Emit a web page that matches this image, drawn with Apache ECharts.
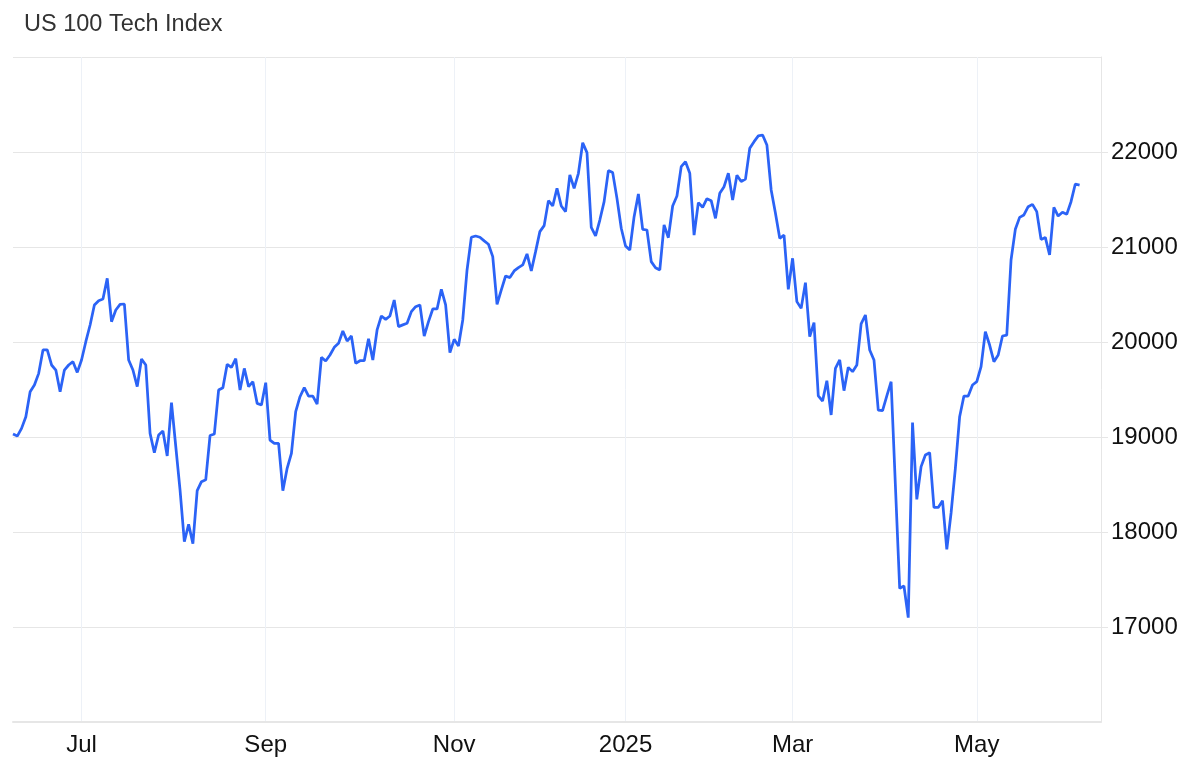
<!DOCTYPE html>
<html>
<head>
<meta charset="utf-8">
<title>US 100 Tech Index</title>
<script src="https://cdn.jsdelivr.net/npm/echarts@6/dist/echarts.min.js"></script>
<style>
  html, body { margin: 0; padding: 0; background: #ffffff; }
  #chart { width: 1200px; height: 782px; }
</style>
</head>
<body>
<div id="chart"></div>
<script>
// ---- data ----
const titleText = 'US 100 Tech Index';
const firstDate = '2024-06-06';
const categoryCount = 255; // trading days on the axis (last few have no data yet)
const marketHolidays = [
  '2024-06-19', '2024-07-04', '2024-09-02', '2024-11-28', '2024-12-25',
  '2025-01-01', '2025-01-09', '2025-01-20', '2025-02-17', '2025-04-18',
  '2025-05-26', '2025-06-19'
];
const monthNames = ['Jan','Feb','Mar','Apr','May','Jun','Jul','Aug','Sep','Oct','Nov','Dec'];
const labelledMonths = [0, 2, 4, 6, 8, 10]; // Jan(year), Mar, May, Jul, Sep, Nov
const yTicks = { min: 16000, max: 23000, step: 1000 };

// daily closes, Jun 2024 .. Jun 2025
const closes = [
  19031, 19010, 19091, 19214, 19477, 19547, 19670, 19916, 19916, 19758,
  19705, 19477, 19705, 19758, 19793, 19680, 19810, 20003, 20179, 20389,
  20435, 20452, 20670, 20214, 20337, 20396, 20400, 19810, 19705, 19530,
  19821, 19758, 19038, 18835, 19021, 19063, 18800, 19361, 18900, 18440,
  17898, 18080, 17878, 18435, 18530, 18550, 19015, 19031, 19494, 19519,
  19765, 19733, 19824, 19494, 19722, 19530, 19582, 19354, 19337, 19572,
  18968, 18933, 18933, 18435, 18670, 18828, 19266, 19424, 19519, 19431,
  19431, 19347, 19838, 19800, 19863, 19944, 19986, 20116, 20010, 20063,
  19775, 19803, 19803, 20035, 19810, 20127, 20274, 20239, 20274, 20442,
  20162, 20180, 20197, 20320, 20372, 20390, 20063, 20214, 20348, 20348,
  20555, 20390, 19888, 20028, 19958, 20232, 20758, 21102, 21116, 21102,
  21064, 21029, 20899, 20397, 20548, 20695, 20678, 20748, 20783, 20811,
  20927, 20748, 20951, 21162, 21225, 21488, 21432, 21618, 21432, 21372,
  21760, 21618, 21776, 22098, 21993, 21207, 21116, 21284, 21477, 21804,
  21783, 21512, 21197, 21011, 20968, 21319, 21558, 21186, 21179, 20846,
  20782, 20758, 21232, 21098, 21432, 21537, 21846, 21898, 21776, 21126,
  21467, 21418, 21509, 21488, 21302, 21565, 21635, 21776, 21495, 21755,
  21690, 21715, 22040, 22109, 22169, 22179, 22074, 21600, 21355, 21091,
  21126, 20554, 20881, 20425, 20354, 20625, 20056, 20204, 19432, 19379,
  19593, 19232, 19723, 19811, 19488, 19733, 19688, 19758, 20190, 20284,
  19916, 19811, 19284, 19277, 19432, 19582, 18490, 17407, 17431, 17098,
  19151, 18344, 18688, 18810, 18835, 18259, 18259, 18329, 17817, 18200,
  18670, 19214, 19431, 19431, 19547, 19582, 19740, 20108, 19968, 19793,
  19863, 20063, 20073, 20863, 21186, 21312, 21337, 21424, 21449, 21372,
  21080, 21101, 20916, 21417, 21326, 21365, 21344, 21477, 21663, 21652
];

// ---- trading-day categories ----
function pad(n) { return (n < 10 ? '0' : '') + n; }
function fmt(d) { return d.getUTCFullYear() + '-' + pad(d.getUTCMonth() + 1) + '-' + pad(d.getUTCDate()); }
const dates = [];
(function () {
  const d = new Date(firstDate + 'T00:00:00Z');
  while (dates.length < categoryCount) {
    const wd = d.getUTCDay();
    const s = fmt(d);
    if (wd !== 0 && wd !== 6 && marketHolidays.indexOf(s) < 0) dates.push(s);
    d.setUTCDate(d.getUTCDate() + 1);
  }
})();

// month tick: last trading day on or before the 1st of the month
function monthTickLabel(index) {
  const cur = dates[index];
  let m = null, y = null;
  if (cur.slice(8, 10) === '01') {
    m = +cur.slice(5, 7) - 1; y = cur.slice(0, 4);
  } else if (index + 1 < dates.length) {
    const nxt = dates[index + 1];
    if (nxt.slice(5, 7) !== cur.slice(5, 7) && nxt.slice(8, 10) !== '01') {
      m = +nxt.slice(5, 7) - 1; y = nxt.slice(0, 4);
    }
  }
  if (m === null || labelledMonths.indexOf(m) < 0) return null;
  return m === 0 ? y : monthNames[m];
}
function isTick(index) { return monthTickLabel(index) !== null; }

const FONT = "'Liberation Sans', Arial, Helvetica, sans-serif";
const chart = echarts.init(document.getElementById('chart'), null, { renderer: 'canvas' });
chart.setOption({
  animation: false,
  backgroundColor: '#ffffff',
  title: {
    text: titleText,
    left: 24,
    top: 13,
    padding: 0,
    textStyle: { fontFamily: FONT, fontSize: 23.5, fontWeight: 'normal', color: '#333333' }
  },
  grid: { left: 13, right: 99, top: 57, bottom: 60, containLabel: false },
  xAxis: {
    type: 'category',
    data: dates,
    boundaryGap: false,
    axisLine: { show: true, lineStyle: { color: '#e6e6e6', width: 2 } },
    axisTick: { show: false },
    axisLabel: {
      interval: function (index) { return isTick(index); },
      formatter: function (value, index) { return monthTickLabel(index) || ''; },
      color: '#111111',
      fontFamily: FONT,
      fontSize: 24,
      margin: 11
    },
    splitLine: {
      show: true,
      interval: function (index) { return isTick(index); },
      lineStyle: { color: '#edf1f7', width: 1 }
    }
  },
  yAxis: {
    type: 'value',
    position: 'right',
    min: yTicks.min,
    max: yTicks.max,
    interval: yTicks.step,
    axisLine: { show: true, lineStyle: { color: '#e6e6e6', width: 1 } },
    axisTick: { show: true, length: 7, lineStyle: { color: '#e6e6e6' } },
    axisLabel: {
      showMinLabel: false,
      showMaxLabel: false,
      formatter: function (v) { return String(v); },
      color: '#111111',
      fontFamily: FONT,
      fontSize: 24,
      margin: 10
    },
    splitLine: { show: true, lineStyle: { color: '#e6e6e6', width: 1 } }
  },
  series: [{
    type: 'line',
    data: closes,
    symbol: 'none',
    smooth: false,
    lineStyle: { color: '#2b63f6', width: 2.75 },
    itemStyle: { color: '#2b63f6' }
  }]
});
</script>
</body>
</html>
